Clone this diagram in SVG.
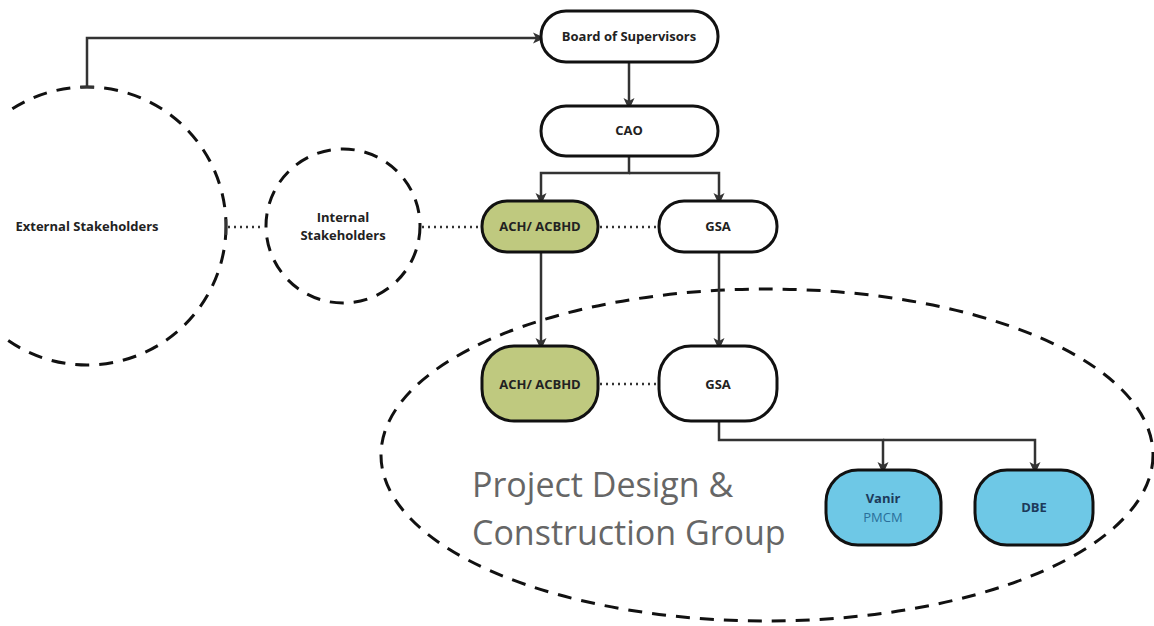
<svg xmlns="http://www.w3.org/2000/svg" width="1154" height="626" viewBox="0 0 1154 626">
<defs>
<marker id="arr" markerWidth="12" markerHeight="12" refX="6" refY="6" orient="auto" markerUnits="userSpaceOnUse">
<path d="M0,0.5 L12,6 L0,11.5 L3,6 Z" fill="#333"/>
</marker>
<clipPath id="clipL"><rect x="7" y="0" width="1147" height="626"/></clipPath>
<style>
.box{stroke:#111;stroke-width:3}
.w{fill:#fff}
.g{fill:#bfc97f}
.b{fill:#6ec8e6}
.t{font-family:"Open Sans","Noto Sans",sans-serif;font-weight:bold;font-size:13px;fill:#222;text-anchor:middle}
.grp{fill:none;stroke:#111;stroke-width:3;stroke-dasharray:14 10}
.con{fill:none;stroke:#333;stroke-width:2.5}
.dot{fill:none;stroke:#333;stroke-width:2.5;stroke-dasharray:2 4}
.big{font-family:"Open Sans","Noto Sans",sans-serif;font-size:34px;fill:#666}
</style>
</defs>
<rect width="1154" height="626" fill="#fff"/>
<g id="external-stakeholders">
<circle class="grp" cx="87" cy="226" r="139" clip-path="url(#clipL)"/>
<text class="t" x="87" y="231">External Stakeholders</text>
</g>
<g id="internal-stakeholders">
<circle class="grp" cx="343" cy="226" r="77"/>
<text class="t" x="343" y="222">Internal</text>
<text class="t" x="343" y="240">Stakeholders</text>
</g>
<g id="project-group">
<ellipse class="grp" cx="767" cy="455" rx="386" ry="166"/>
<text class="big" x="472" y="497">Project Design &amp;</text>
<text class="big" x="472" y="545">Construction Group</text>
</g>
<g id="connectors">
<path class="con" d="M87,87 V38 H539" marker-end="url(#arr)"/>
<path class="con" d="M80,87 H94"/>
<path class="con" d="M629,62 V104" marker-end="url(#arr)"/>
<path class="con" d="M629,156 V173 H541 V199" marker-end="url(#arr)"/>
<path class="con" d="M629,173 H719 V199" marker-end="url(#arr)"/>
<path class="con" d="M541,252 V344" marker-end="url(#arr)"/>
<path class="con" d="M719,252 V344" marker-end="url(#arr)"/>
<path class="con" d="M719,421 V440 H883 V468" marker-end="url(#arr)"/>
<path class="con" d="M883,440 H1035 V468" marker-end="url(#arr)"/>
<path class="dot" d="M228,227 H264"/>
<path class="con" d="M226,219 V235"/>
<path class="dot" d="M422,227 H480"/>
<path class="dot" d="M600,227 H657"/>
<path class="dot" d="M600,384 H657"/>
</g>
<g id="board">
<rect class="box w" x="541" y="11" width="177" height="51" rx="25"/>
<text class="t" x="629" y="41">Board of Supervisors</text>
</g>
<g id="cao">
<rect class="box w" x="541" y="106" width="177" height="50" rx="25"/>
<text class="t" x="629" y="135">CAO</text>
</g>
<g id="ach1">
<rect class="box g" x="482" y="201" width="116" height="51" rx="25"/>
<text class="t" x="540" y="231">ACH/ ACBHD</text>
</g>
<g id="gsa1">
<rect class="box w" x="659" y="201" width="118" height="51" rx="25"/>
<text class="t" x="718" y="231">GSA</text>
</g>
<g id="ach2">
<rect class="box g" x="482" y="346" width="116" height="75" rx="32"/>
<text class="t" x="540" y="389">ACH/ ACBHD</text>
</g>
<g id="gsa2">
<rect class="box w" x="659" y="346" width="118" height="75" rx="32"/>
<text class="t" x="718" y="389">GSA</text>
</g>
<g id="vanir">
<rect class="box b" x="826" y="470" width="115" height="75" rx="32"/>
<text class="t" x="883" y="503" style="fill:#1d3a5a">Vanir</text>
<text x="883" y="522" font-family="'Open Sans','Noto Sans',sans-serif" font-size="13" fill="#2a6f9a" text-anchor="middle">PMCM</text>
</g>
<g id="dbe">
<rect class="box b" x="975" y="470" width="118" height="75" rx="32"/>
<text class="t" x="1034" y="512" style="fill:#1d3a5a">DBE</text>
</g>
</svg>
